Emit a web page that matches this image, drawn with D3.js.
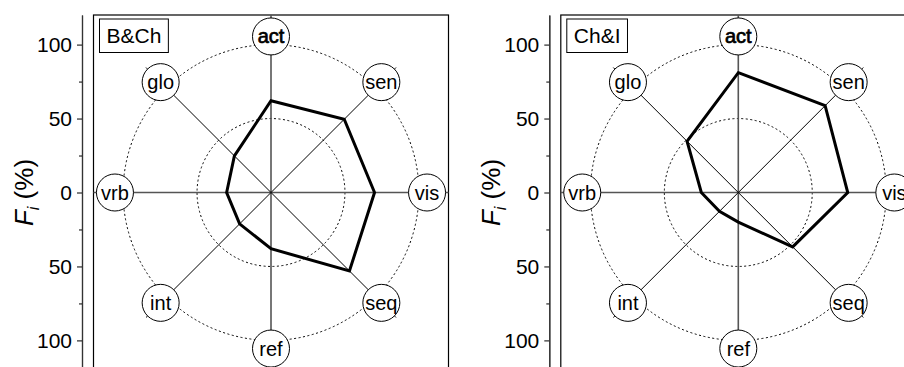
<!DOCTYPE html>
<html>
<head>
<meta charset="utf-8">
<script src="https://cdn.jsdelivr.net/npm/d3@7"></script>
<style>
  body { margin: 0; background: #fff; }
  text { font-family: "Liberation Sans", Arial, sans-serif; }
</style>
</head>
<body id="viz">
<script>
// Data (percent)
categories = ["act", "sen", "vis", "seq", "ref", "int", "vrb", "glo"]
bch_values = [62, 70, 70, 75, 38, 30, 30, 35]
chi_values = [81, 83, 74, 52, 20, 18, 25, 49]
panel_names = ["B&Ch", "Ch&I"]
major_ticks = [100, 50, 0, -50, -100]
minor_ticks = [75, 25, -25, -75]
rings = [50, 100]

// Layout
svg_width = 904
svg_height = 367
frame_top = 15
frame_size = 355
frame_lefts = [93.5, 560.8]
axis_gap = 11.5
label_r = 105.5   // label circles, in % units
spoke_r = 119.5
bubble_r = 18.5

svg = d3.select("body#viz")
  .append("svg")
  .attr("width", svg_width)
  .attr("height", svg_height)

// y for the left axis: radial distance up and down from the centre
var y = d3.scaleLinear()
  .domain([120, -120])
  .range([frame_top, frame_top + frame_size])

// radial scale
var r = d3.scaleLinear()
  .domain([0, 120])
  .range([0, frame_size / 2])

var angle = function(i) { return i * Math.PI / 4 }

function drawPanel(g, values, name) {
  var cx = frame_size / 2, cy = frame_size / 2

  // frame
  g.append("rect")
    .attr("x", 0).attr("y", 0)
    .attr("width", frame_size).attr("height", frame_size)
    .attr("fill", "none")
    .attr("stroke", "#000")
    .attr("stroke-width", 1.2)

  var c = g.append("g").attr("transform", "translate(" + cx + "," + cy + ")")

  // dotted rings
  c.selectAll("circle.ring")
    .data(rings)
    .enter().append("circle")
      .attr("class", "ring")
      .attr("r", function(d) { return r(d) })
      .attr("fill", "none")
      .attr("stroke", "#000")
      .attr("stroke-width", 1)
      .attr("stroke-dasharray", "2,2.5")

  // zero lines across the whole frame
  c.append("line")
    .attr("x1", -cx).attr("x2", cx).attr("y1", 0).attr("y2", 0)
    .attr("stroke", "#555").attr("stroke-width", 1.6)
  c.append("line")
    .attr("x1", 0).attr("x2", 0).attr("y1", -cy).attr("y2", cy)
    .attr("stroke", "#555").attr("stroke-width", 1.6)

  // diagonal spokes
  c.selectAll("line.spoke")
    .data(categories.filter(function(d, i) { return i % 2 == 1 }))
    .enter().append("line")
      .attr("class", "spoke")
      .attr("x1", 0).attr("y1", 0)
      .attr("x2", function(d) { return r(spoke_r) * Math.sin(angle(categories.indexOf(d))) })
      .attr("y2", function(d) { return -r(spoke_r) * Math.cos(angle(categories.indexOf(d))) })
      .attr("stroke", "#000")
      .attr("stroke-width", 1)

  // data polygon
  var radial = d3.lineRadial()
    .angle(function(d, i) { return angle(i) })
    .radius(function(d) { return r(d) })
    .curve(d3.curveLinearClosed)

  c.append("path")
    .datum(values)
    .attr("d", radial)
    .attr("fill", "none")
    .attr("stroke", "#000")
    .attr("stroke-width", 3)
    .attr("stroke-linejoin", "miter")

  // category bubbles
  var lab = c.selectAll("g.lab")
    .data(categories)
    .enter().append("g")
      .attr("class", "lab")
      .attr("transform", function(d, i) {
        return "translate(" + (r(label_r) * Math.sin(angle(i))) + "," + (-r(label_r) * Math.cos(angle(i))) + ")"
      })
  lab.append("circle")
    .attr("r", bubble_r)
    .attr("fill", "#fff")
    .attr("stroke", "#000")
    .attr("stroke-width", 1)
  lab.append("text")
    .attr("text-anchor", "middle")
    .attr("dy", "0.35em")
    .style("font-size", "20px")
    .style("stroke", function(d) { return d == "act" ? "#000" : "none" })
    .style("stroke-width", 0.7)
    .text(function(d) { return d })

  // legend box
  var leg = g.append("g").attr("transform", "translate(6,4)")
  var t = leg.append("text")
    .attr("x", 7).attr("y", 23.5)
    .style("font-size", "21px")
    .text(name)
  var w = t.node().getComputedTextLength()
  leg.append("rect")
    .attr("x", 0).attr("y", 0)
    .attr("width", w + 14).attr("height", 33.5)
    .attr("fill", "none")
    .attr("stroke", "#000")
    .attr("stroke-width", 1)
}

function drawAxis(g) {
  var major = g.append("g")
    .call(d3.axisLeft(y).tickValues(major_ticks).tickSize(5).tickSizeOuter(0).tickPadding(5)
      .tickFormat(function(d) { return Math.abs(d) }))
  var minor = g.append("g")
    .call(d3.axisLeft(y).tickValues(minor_ticks).tickSize(3).tickSizeOuter(0)
      .tickFormat(""))
  g.selectAll(".domain").attr("stroke", "#333").attr("stroke-width", 1.2)
  g.selectAll(".tick line").attr("stroke", "#000")
  major.selectAll("text")
    .style("font-family", "'Liberation Sans', Arial, sans-serif")
    .style("font-size", "21px")
    .attr("fill", "#000")

  // axis title: F_i (%)
  var title = g.append("text")
    .attr("transform", "translate(-49," + y(0) + ") rotate(-90)")
    .attr("text-anchor", "middle")
    .style("font-size", "26px")
  title.append("tspan").style("font-style", "italic").text("F")
  title.append("tspan").attr("dy", 6).style("font-size", "16px").style("font-style", "italic").text("i")
  title.append("tspan").attr("dy", -6).text(" (%)")
}

panel_names.forEach(function(name, k) {
  var left = frame_lefts[k]
  var values = k == 0 ? bch_values : chi_values

  var axis_g = svg.append("g")
    .attr("transform", "translate(" + (left - axis_gap) + ",0)")
  drawAxis(axis_g)

  var panel = svg.append("g")
    .attr("transform", "translate(" + left + "," + frame_top + ")")
  drawPanel(panel, values, name)
})
</script>
</body>
</html>
